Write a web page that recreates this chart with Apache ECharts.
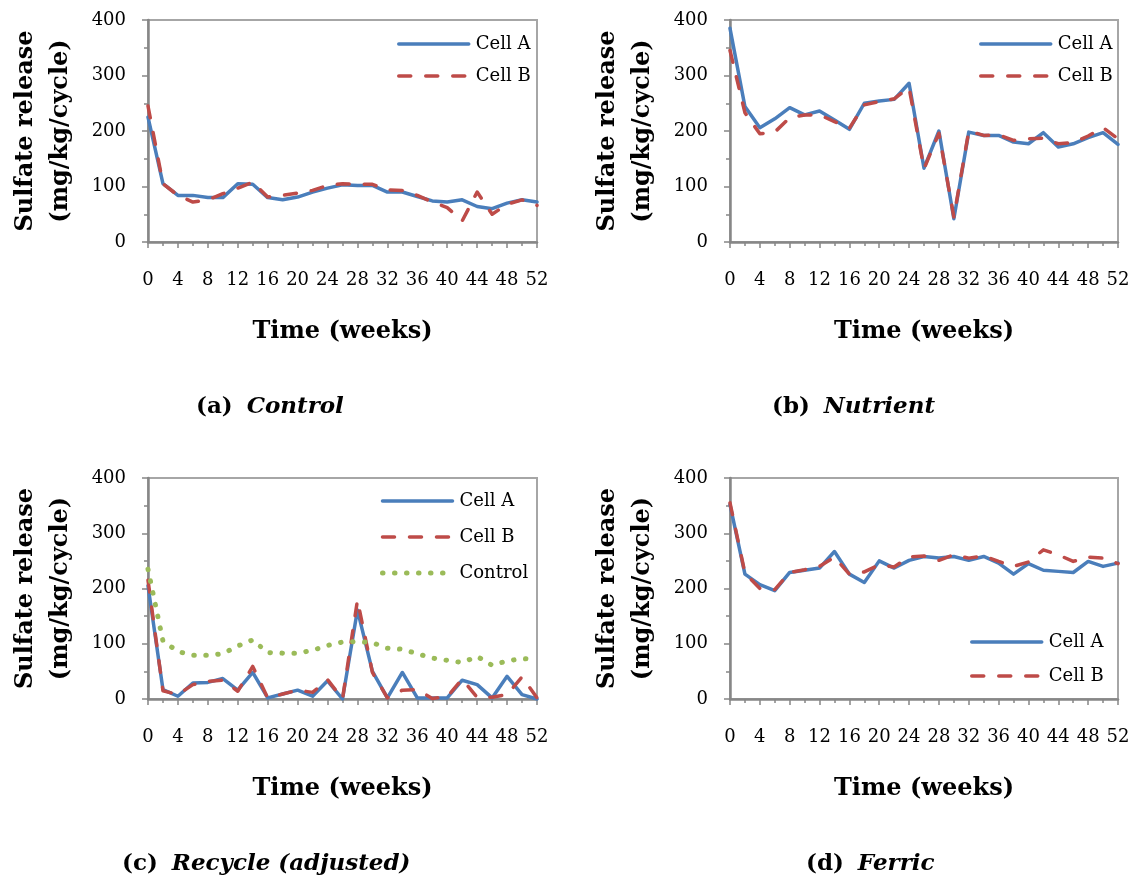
<!DOCTYPE html>
<html>
<head>
<meta charset="utf-8">
<script src="https://cdn.jsdelivr.net/npm/echarts@6/dist/echarts.min.js"></script>
<style>
  html, body { margin: 0; padding: 0; background: #ffffff; }
  #chart { width: 1140px; height: 883px; }
</style>
</head>
<body>
<div id="chart"></div>
<script>
// Sampling times (weeks), one reading every two weeks
const weeks = [0, 2, 4, 6, 8, 10, 12, 14, 16, 18, 20, 22, 24, 26, 28, 30, 32, 34, 36, 38, 40, 42, 44, 46, 48, 50, 52];

// Sulfate release (mg/kg/cycle), panel (a) Control
const controlCellA = [225, 105, 84, 84, 80, 80, 105, 104, 80, 76, 81, 90, 97, 103, 102, 102, 90, 90, 82, 74, 72, 76, 64, 60, 70, 76, 72];
const controlCellB = [245, 105, 84, 72, 76, 87, 97, 108, 81, 84, 88, 93, 102, 105, 104, 104, 94, 93, 84, 72, 62, 38, 90, 50, 68, 76, 66];

// Panel (b) Nutrient
const nutrientCellA = [385, 244, 206, 222, 242, 229, 236, 220, 203, 250, 254, 257, 286, 133, 200, 42, 198, 192, 192, 180, 177, 197, 171, 177, 188, 197, 176];
const nutrientCellB = [345, 233, 195, 198, 224, 229, 229, 217, 205, 247, 253, 258, 278, 132, 196, 45, 200, 192, 193, 183, 186, 187, 177, 179, 191, 206, 186];

// Panel (c) Recycle (adjusted), with the control average for reference
const recycleCellA = [205, 17, 5, 29, 30, 37, 16, 48, 2, 9, 16, 5, 33, 0, 161, 50, 2, 48, 2, 2, 2, 34, 26, 2, 41, 8, 0];
const recycleCellB = [215, 15, 8, 26, 32, 34, 14, 59, 2, 9, 16, 12, 35, 0, 179, 48, 2, 16, 17, 1, 4, 36, 3, 3, 8, 40, 2];
const recycleControl = [235, 105, 86, 79, 79, 82, 96, 107, 84, 83, 83, 88, 97, 103, 104, 102, 92, 90, 82, 74, 70, 66, 77, 61, 69, 73, 72];

// Panel (d) Ferric
const ferricCellA = [352, 226, 207, 196, 229, 233, 237, 267, 226, 211, 250, 237, 251, 258, 255, 258, 251, 258, 246, 226, 245, 233, 231, 229, 249, 240, 246];
const ferricCellB = [355, 228, 200, 198, 229, 234, 240, 257, 226, 230, 243, 239, 257, 259, 251, 261, 255, 259, 249, 240, 248, 270, 261, 249, 257, 255, 245];

// Axis ranges and text
const yMin = 0, yMax = 400, yStep = 100;
const xMin = 0, xMax = 52, xStep = 4;
const yTitle = 'Sulfate release\n(mg/kg/cycle)';
const xTitle = 'Time (weeks)';
const panelTags = ['(a)', '(b)', '(c)', '(d)'];
const panelNames = ['Control', 'Nutrient', 'Recycle (adjusted)', 'Ferric'];
const nameA = 'Cell A', nameB = 'Cell B', nameControl = 'Control';

const SERIF = '"DejaVu Serif", "Liberation Serif", serif';
const AXIS_GRAY = '#878787';
const BLUE = '#4a7ebb', RED = '#be4b48', GREEN = '#9bbb59';

const styleA = { color: BLUE, width: 3.5, type: 'solid', join: 'round', cap: 'round' };
const styleB = { color: RED, width: 3.5, type: [12, 15], join: 'round', cap: 'round' };
const styleC = { color: GREEN, width: 5, type: [0.5, 11.5], join: 'round', cap: 'round' };

// Plot rectangles for the four panels
const grids = [
  { left: 148, top: 20, width: 389, height: 222 },
  { left: 730, top: 20, width: 388, height: 222 },
  { left: 148, top: 478, width: 389, height: 221 },
  { left: 730, top: 478, width: 388, height: 221 }
];

const captionPos = [
  { left: 196, top: 392 },
  { left: 772, top: 392 },
  { left: 122, top: 849 },
  { left: 806, top: 849 }
];

function pairs(values) {
  return weeks.map((w, i) => [w, values[i]]);
}

function lineSeries(name, values, idx, style, z) {
  return {
    name: name,
    type: 'line',
    xAxisIndex: idx,
    yAxisIndex: idx,
    data: pairs(values),
    symbol: 'none',
    smooth: false,
    silent: true,
    z: z,
    lineStyle: style
  };
}

const series = [
  lineSeries(nameA, controlCellA, 0, styleA, 2),
  lineSeries(nameB, controlCellB, 0, styleB, 3),
  lineSeries(nameA, nutrientCellA, 1, styleA, 2),
  lineSeries(nameB, nutrientCellB, 1, styleB, 3),
  lineSeries(nameA, recycleCellA, 2, styleA, 2),
  lineSeries(nameB, recycleCellB, 2, styleB, 3),
  lineSeries(nameControl, recycleControl, 2, styleC, 4),
  lineSeries(nameA, ferricCellA, 3, styleA, 2),
  lineSeries(nameB, ferricCellB, 3, styleB, 3)
];

const tickText = { fontFamily: SERIF, fontSize: 18, color: '#000' };
const titleText = { fontFamily: SERIF, fontSize: 24, fontWeight: 'bold', color: '#000' };

const xAxes = grids.map((g, i) => ({
  gridIndex: i,
  type: 'value',
  min: xMin, max: xMax, interval: xStep,
  name: xTitle,
  nameLocation: 'middle',
  nameGap: 78,
  nameTextStyle: titleText,
  axisLine: { show: true, onZero: false, lineStyle: { color: AXIS_GRAY, width: 2.5 } },
  axisTick: { show: true, length: 6, lineStyle: { color: AXIS_GRAY, width: 1.5 } },
  minorTick: { show: true, splitNumber: 2, length: 4, lineStyle: { color: AXIS_GRAY, width: 1.5 } },
  axisLabel: Object.assign({ margin: 29 }, tickText),
  splitLine: { show: false }
}));

const yAxes = grids.map((g, i) => ({
  gridIndex: i,
  type: 'value',
  min: yMin, max: yMax, interval: yStep,
  name: yTitle,
  nameLocation: 'middle',
  nameRotate: 90,
  nameGap: 70,
  nameTextStyle: Object.assign({ lineHeight: 35 }, titleText),
  axisLine: { show: true, onZero: false, lineStyle: { color: AXIS_GRAY, width: 2.5 } },
  axisTick: { show: true, length: 6, lineStyle: { color: AXIS_GRAY, width: 1.5 } },
  minorTick: { show: true, splitNumber: 2, length: 4, lineStyle: { color: AXIS_GRAY, width: 1.5 } },
  axisLabel: Object.assign({ margin: 22 }, tickText),
  splitLine: { show: false }
}));

function legendFor(names, styles, left, top, gap) {
  return {
    orient: 'vertical',
    left: left,
    top: top,
    padding: 0,
    itemWidth: 70,
    itemHeight: 20,
    itemGap: gap,
    selectedMode: false,
    textStyle: { fontFamily: SERIF, fontSize: 18, color: '#000', padding: [0, 0, 0, 2] },
    itemStyle: { opacity: 0 },
    data: names.map((n, k) => ({
      name: n,
      itemStyle: { opacity: 0 },
      lineStyle: { color: styles[k].color, width: styles[k].width, type: styles[k].type, cap: styles[k].cap }
    }))
  };
}

const legends = [
  legendFor([nameA, nameB], [styleA, styleB], 397, 35, 14),
  legendFor([nameA, nameB], [styleA, styleB], 979, 35, 14),
  legendFor([nameA, nameB, nameControl], [styleA, styleB, styleC], 380, 492, 18),
  legendFor([nameA, nameB], [styleA, styleB], 970, 633, 16)
];

const titles = captionPos.map((p, i) => ({
  left: p.left,
  top: p.top,
  padding: 0,
  text: '{t|' + panelTags[i] + '}{n|' + panelNames[i] + '}',
  textStyle: {
    rich: {
      t: { fontFamily: SERIF, fontSize: 23, fontWeight: 'bold', fontStyle: 'normal', color: '#000', lineHeight: 30 },
      n: { fontFamily: SERIF, fontSize: 23, fontWeight: 'bold', fontStyle: 'italic', color: '#000', lineHeight: 30, padding: [0, 0, 0, 14] }
    }
  }
}));

const chart = echarts.init(document.getElementById('chart'), null, { renderer: 'canvas' });
chart.setOption({
  animation: false,
  backgroundColor: '#ffffff',
  title: titles,
  legend: legends,
  grid: grids.map(g => Object.assign({ show: true, borderColor: '#a6a6a6', borderWidth: 2, backgroundColor: 'transparent', containLabel: false }, g)),
  xAxis: xAxes,
  yAxis: yAxes,
  series: series
});
</script>
</body>
</html>
